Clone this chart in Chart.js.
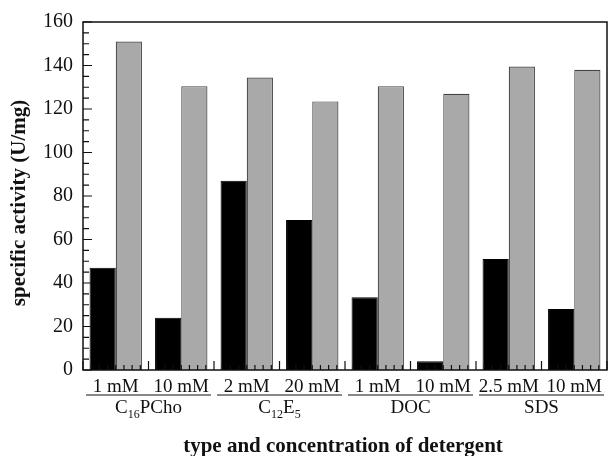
<!DOCTYPE html>
<html>
<head>
<meta charset="utf-8">
<script src="https://cdn.jsdelivr.net/npm/chart.js@4/dist/chart.umd.min.js"></script>
<style>
  body { margin: 0; background: #fff; }
  #wrap { width: 612px; height: 456px; }
</style>
</head>
<body>
<div id="wrap"><canvas id="detergent_chart"></canvas></div>
<script>
const concLabels = ['1 mM', '10 mM', '2 mM', '20 mM', '1 mM', '10 mM', '2.5 mM', '10 mM'];
const groups = [
  { main: 'C', sub: '16', rest: 'PCho' },
  { main: 'C', sub: '12', rest: 'E', sub2: '5' },
  { main: 'DOC' },
  { main: 'SDS' }
];
const blackVals = [47, 24, 87, 69, 33.5, 4, 51, 28];
const grayVals = [151, 130.5, 134.5, 123.5, 130.5, 127, 139.5, 138];
const yTicks = [0, 20, 40, 60, 80, 100, 120, 140, 160];

const serif = '"Liberation Serif", "Times New Roman", serif';

// frame, inward ticks, group labels and axis titles
const extras = {
  id: 'extras',
  afterDatasetsDraw(chart) {
    const ctx = chart.ctx;
    const area = chart.chartArea;
    const x = chart.scales.x;
    const y = chart.scales.y;
    ctx.save();
    ctx.strokeStyle = '#111';
    ctx.lineWidth = 1.5;
    ctx.strokeRect(area.left, area.top, area.right - area.left, area.bottom - area.top);

    ctx.lineWidth = 1.2;
    ctx.beginPath();
    for (let v = 0; v <= 160; v += 5) {
      const py = y.getPixelForValue(v);
      const len = v % 20 === 0 ? 9 : 6;
      ctx.moveTo(area.left, py);
      ctx.lineTo(area.left + len, py);
    }
    for (let k = 0; k <= concLabels.length * 8; k++) {
      const px = x.getPixelForValue(-0.5 + k / 8);
      const len = k % 8 === 0 ? 9 : 5;
      ctx.moveTo(px, area.bottom);
      ctx.lineTo(px, area.bottom - len);
    }
    ctx.stroke();

    // group underlines and names
    ctx.fillStyle = '#111';
    ctx.textBaseline = 'middle';
    groups.forEach((g, i) => {
      const x0 = x.getPixelForValue(i * 2 - 0.5) + 3;
      const x1 = x.getPixelForValue(i * 2 + 1.5) - 3;
      ctx.beginPath();
      ctx.lineWidth = 1;
      ctx.moveTo(x0, 395);
      ctx.lineTo(x1, 395);
      ctx.stroke();

      const parts = [[g.main, 19, 0]];
      if (g.sub) parts.push([g.sub, 12, 7]);
      if (g.rest) parts.push([g.rest, 19, 0]);
      if (g.sub2) parts.push([g.sub2, 12, 7]);
      let total = 0;
      parts.forEach(p => { ctx.font = p[1] + 'px ' + serif; total += ctx.measureText(p[0]).width; });
      let cx = (x0 + x1) / 2 - total / 2;
      ctx.textAlign = 'left';
      parts.forEach(p => {
        ctx.font = p[1] + 'px ' + serif;
        ctx.fillText(p[0], cx, 408 + p[2]);
        cx += ctx.measureText(p[0]).width;
      });
    });

    ctx.font = 'bold 21px ' + serif;
    ctx.textAlign = 'center';
    ctx.fillText('type and concentration of detergent', 343, 447);

    ctx.translate(20, 203);
    ctx.rotate(-Math.PI / 2);
    ctx.font = 'bold 21px ' + serif;
    ctx.fillText('specific activity (U/mg)', 0, 0);
    ctx.restore();
  }
};

const ctx = document.getElementById('detergent_chart').getContext('2d');
const chart = new Chart(ctx, {
  type: 'bar',
  data: {
    labels: concLabels,
    datasets: [{
      data: blackVals,
      backgroundColor: '#000',
      borderColor: '#000',
      borderWidth: 1
    }, {
      data: grayVals,
      backgroundColor: '#a9a9a9',
      borderColor: '#444',
      borderWidth: 1.2
    }]
  },
  options: {
    responsive: true,
    maintainAspectRatio: false,
    animation: false,
    layout: { padding: { top: 19, right: 5, left: 0, bottom: 0 } },
    datasets: { bar: { categoryPercentage: 0.8, barPercentage: 1.0 } },
    plugins: { legend: { display: false }, tooltip: { enabled: false } },
    scales: {
      x: {
        grid: { display: false, drawTicks: false },
        border: { display: false },
        afterFit: s => { s.height = 86; },
        ticks: {
          autoSkip: false,
          maxRotation: 0,
          padding: 6,
          color: '#111',
          font: { family: serif, size: 19 }
        }
      },
      y: {
        min: 0,
        max: 160,
        afterFit: s => { s.width = 83; },
        afterBuildTicks: s => { s.ticks = yTicks.map(v => ({ value: v })); },
        grid: { display: false, drawTicks: false },
        border: { display: false },
        ticks: {
          padding: 10,
          color: '#111',
          font: { family: serif, size: 20 }
        }
      }
    }
  },
  plugins: [extras]
});
</script>
</body>
</html>
